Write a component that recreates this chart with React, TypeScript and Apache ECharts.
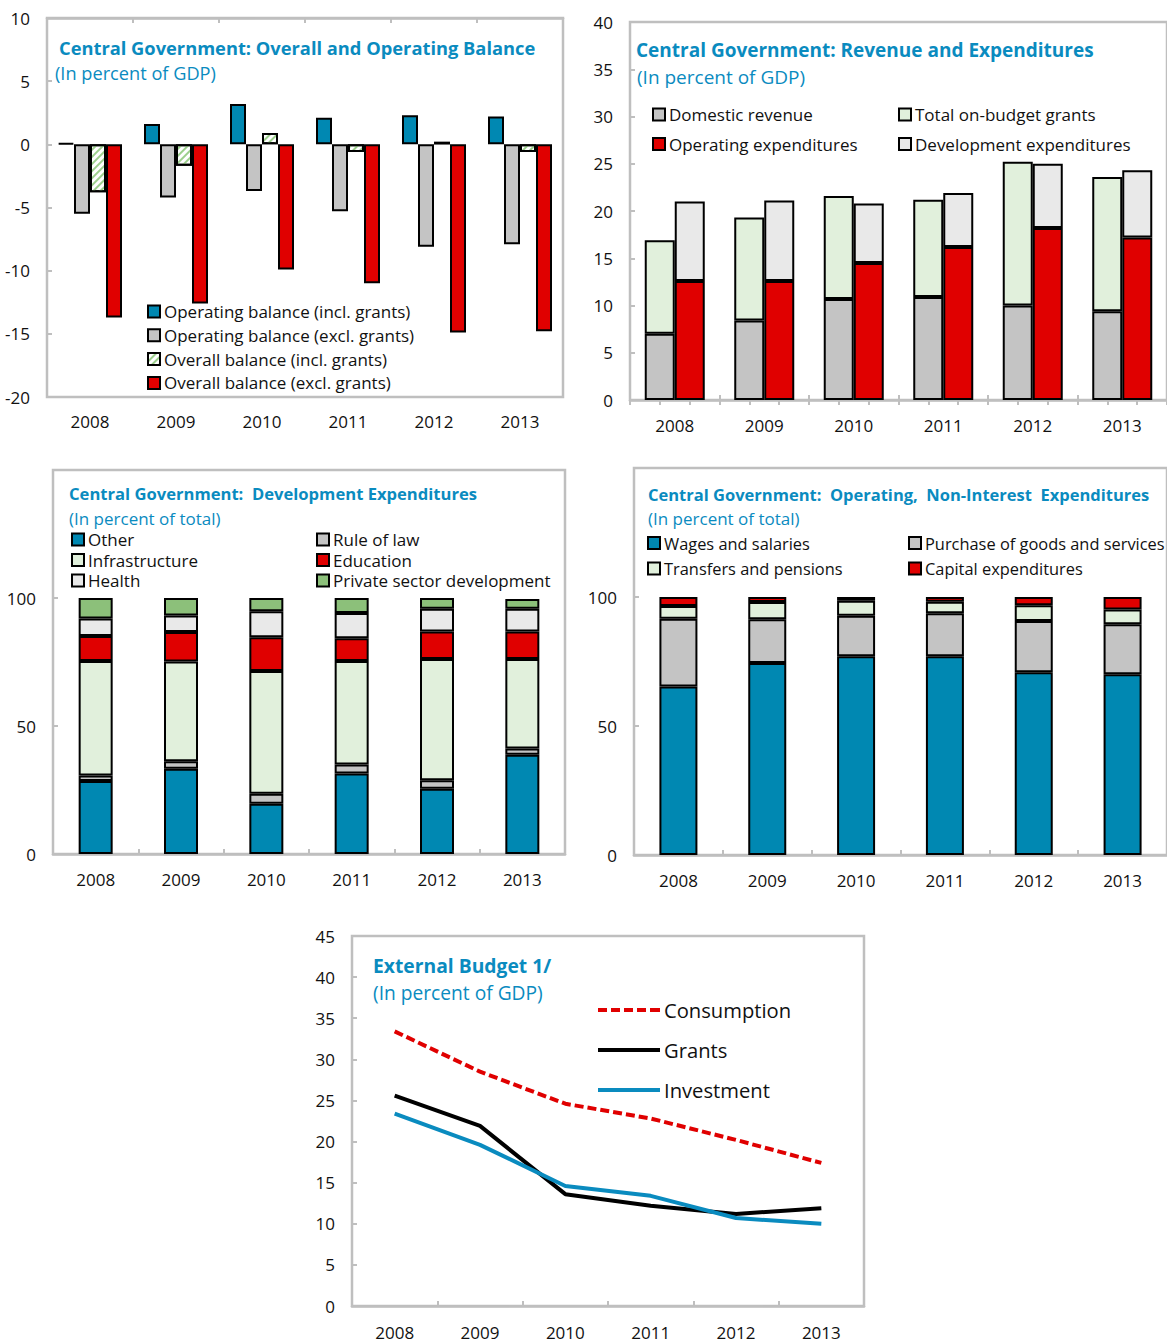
import React, { useEffect, useRef } from "react";
import * as echarts from "echarts";

// Years shown on every panel
const years = ["2008", "2009", "2010", "2011", "2012", "2013"];

// Overall and operating balance (percent of GDP)
const opBalanceIncl = [0.1, 1.6, 3.2, 2.1, 2.3, 2.2];
const opBalanceExcl = [-5.5, -4.2, -3.7, -5.3, -8.1, -7.9];
const overallIncl = [-3.8, -1.7, 0.9, -0.6, 0.2, -0.6];
const overallExcl = [-13.7, -12.6, -9.9, -11.0, -14.9, -14.8];

// Revenue and expenditures (percent of GDP)
const domesticRevenue = [7.0, 8.4, 10.7, 10.9, 10.0, 9.4];
const onBudgetGrants = [9.9, 10.9, 10.9, 10.3, 15.2, 14.2];
const operatingExp = [12.6, 12.6, 14.5, 16.2, 18.2, 17.2];
const developmentExp = [8.4, 8.5, 6.3, 5.7, 6.8, 7.1];

// Development expenditures (percent of total)
const devOther = [28.5, 33.3, 19.6, 31.4, 25.5, 38.8];
const devRuleOfLaw = [2.2, 2.9, 3.9, 3.6, 3.3, 2.4];
const devInfrastructure = [44.7, 39.0, 48.0, 40.4, 47.4, 35.0];
const devEducation = [9.8, 11.5, 13.2, 8.9, 10.7, 10.7];
const devHealth = [6.8, 6.5, 10.1, 9.8, 8.9, 8.9];
const devPrivateSector = [8.0, 6.8, 5.2, 5.9, 4.2, 3.8];

// Operating, non-interest expenditures (percent of total)
const wages = [65.3, 74.4, 77.0, 77.0, 70.8, 70.1];
const goodsServices = [26.3, 17.0, 15.7, 16.7, 19.9, 19.3];
const transfers = [4.9, 6.7, 5.8, 4.5, 6.1, 5.8];
const capitalExp = [3.5, 1.9, 1.5, 1.8, 3.2, 4.8];

// External budget (percent of GDP)
const extConsumption = [33.4, 28.5, 24.6, 22.8, 20.2, 17.4];
const extGrants = [25.6, 21.9, 13.6, 12.2, 11.2, 11.9];
const extInvestment = [23.4, 19.6, 14.6, 13.4, 10.7, 10.0];

const FONT = "'Open Sans', 'Noto Sans', sans-serif";
const BLUE = "#0088b2";
const RED = "#e00000";
const GRAY = "#c4c4c4";
const LIGHT_GREEN = "#e1f0dc";
const LIGHT_GRAY = "#e9e9e9";
const GREEN = "#8cc07a";
const TITLE = "#0a8bbf";
const FRAME = "#bfbfbf";
const LINE_BLUE = "#0a8bbf";
const CONSUMPTION_DASH = [9, 4];
// Dashed legend key for the consumption line (five short dashes)
const DASH_ICON =
  "path://M0,0h9v4h-9z M13,0h9v4h-9z M26,0h9v4h-9z M39,0h9v4h-9z M52,0h10v4h-10z";

const labelStyle = { color: "#111", fontFamily: FONT, fontSize: 17 };

const barBorder = { borderColor: "#000", borderWidth: 2 };

function frameGrid(left: number, top: number, width: number, height: number) {
  return {
    left,
    top,
    width,
    height,
    show: true,
    borderColor: FRAME,
    borderWidth: 2.5,
    backgroundColor: "#fff",
    containLabel: false,
  };
}

function catAxis(gridIndex: number, margin: number) {
  return {
    type: "category",
    gridIndex,
    data: years,
    position: "bottom",
    axisLine: { show: true, onZero: false, lineStyle: { color: FRAME, width: 2.5 } },
    axisTick: { show: true, inside: true, length: 5, lineStyle: { color: FRAME, width: 2 } },
    axisLabel: { ...labelStyle, margin },
    splitLine: { show: false },
  };
}

function valAxis(gridIndex: number, min: number, max: number, interval: number, hideTop = false) {
  return {
    type: "value",
    gridIndex,
    min,
    max,
    interval,
    axisLine: { show: false },
    axisTick: { show: true, inside: true, length: 5, lineStyle: { color: FRAME, width: 2 } },
    axisLabel: {
      ...labelStyle,
      margin: 17,
      formatter: (v: number) => (hideTop && v === max ? "" : String(v)),
    },
    splitLine: { show: false },
  };
}

function bar(
  name: string,
  data: number[],
  xAxisIndex: number,
  yAxisIndex: number,
  color: string,
  barWidth: number,
  stack?: string,
  extra: Record<string, unknown> = {}
) {
  return {
    type: "bar",
    name,
    data,
    xAxisIndex,
    yAxisIndex,
    stack,
    barWidth,
    barGap: "0%",
    itemStyle: { color, ...barBorder, ...extra },
  };
}

function text(x: number, y: number, t: string, size: number, bold: boolean, fill = TITLE) {
  return {
    type: "text",
    x,
    y,
    style: {
      text: t,
      fill,
      fontFamily: FONT,
      fontSize: size,
      fontWeight: bold ? "bold" : "normal",
      verticalAlign: "middle",
      align: "left",
    },
  };
}

function legend(
  left: number,
  top: number,
  data: unknown[],
  itemGap: number,
  fontSize = 17,
  extra: Record<string, unknown> = {}
) {
  return {
    orient: "vertical",
    left,
    top,
    data,
    icon: "rect",
    itemWidth: 12,
    itemHeight: 12,
    itemGap,
    padding: 0,
    selectedMode: false,
    textStyle: { color: "#111", fontFamily: FONT, fontSize, padding: [0, 0, 0, -1] },
    ...extra,
  };
}

export default function App() {
  const ref = useRef<HTMLDivElement>(null);

  useEffect(() => {
    if (!ref.current) return;
    const chart = echarts.init(ref.current, undefined, { renderer: "svg" });

    const stripes = {
      decal: {
        symbol: "rect",
        symbolSize: 1,
        color: "#9ccf8c",
        dashArrayX: [1, 0],
        dashArrayY: [2, 3],
        rotation: -Math.PI / 4,
      },
    };

    const option = {
      animation: false,
      backgroundColor: "#fff",
      grid: [
        frameGrid(47, 18, 516, 379),
        frameGrid(630, 22, 540, 378),
        frameGrid(53, 470, 512, 384),
        frameGrid(634, 468, 551, 387),
        frameGrid(352, 936, 512, 370),
      ],
      xAxis: [
        // 0: balance panel, labels along the bottom frame
        { ...catAxis(0, 16), axisLine: { show: false }, axisTick: { show: false } },
        // 1: balance panel, zero line with ticks
        {
          type: "category",
          gridIndex: 0,
          data: years,
          axisLine: { show: true, onZero: true, lineStyle: { color: FRAME, width: 2.5 } },
          axisTick: { show: true, inside: true, length: 5, lineStyle: { color: FRAME, width: 2 } },
          axisLabel: { show: false },
        },
        // 2: revenue panel
        catAxis(1, 17),
        // 3: revenue panel, top frame ticks
        {
          type: "category",
          gridIndex: 1,
          position: "top",
          data: Array.from({ length: 18 }, (_, i) => "t" + i),
          axisLine: { show: false },
          axisTick: { show: true, inside: true, length: 5, lineStyle: { color: FRAME, width: 2 } },
          axisLabel: { show: false },
        },
        // 4: development panel
        catAxis(2, 17),
        // 5: operating panel
        catAxis(3, 17),
        // 6: external budget panel
        catAxis(4, 18),
      ],
      yAxis: [
        valAxis(0, -20, 10, 5),
        valAxis(1, 0, 40, 5),
        valAxis(2, 0, 150, 50, true),
        valAxis(3, 0, 150, 50, true),
        valAxis(4, 0, 45, 5),
      ],
      legend: [
        legend(147, 303, [
          "Operating balance (incl. grants)",
          "Operating balance (excl. grants)",
          "Overall balance (incl. grants)",
          "Overall balance (excl. grants)",
        ], 6.8),
        legend(652, 106, ["Domestic revenue", "Operating expenditures"], 12.5),
        legend(898, 106, ["Total on-budget grants", "Development expenditures"], 12.5),
        legend(71, 531, ["Other", "Infrastructure", "Health"], 3.5),
        legend(316, 531, ["Rule of law", "Education", "Private sector development"], 3.5),
        legend(647, 535, ["Wages and salaries", "Transfers and pensions"], 9.5, 16.4),
        legend(908, 535, ["Purchase of goods and services", "Capital expenditures"], 9.5, 16.4),
        legend(
          598,
          1000,
          [
            { name: "Consumption", icon: DASH_ICON },
            { name: "Grants" },
            { name: "Investment" },
          ],
          20,
          20.2,
          { itemWidth: 62, itemHeight: 4 }
        ),
      ],
      graphic: [
        text(59, 47, "Central Government: Overall and Operating Balance", 18.3, true),
        text(55, 73, "(In percent of GDP)", 18.2, false),
        text(636, 50, "Central Government: Revenue and Expenditures", 19, true),
        text(637, 77, "(In percent of GDP)", 19, false),
        text(69, 493, "Central Government:  Development Expenditures", 16.6, true),
        text(69, 518, "(In percent of total)", 17, false),
        text(648, 494, "Central Government:  Operating,  Non-Interest  Expenditures", 16.5, true),
        text(648, 518, "(In percent of total)", 17, false),
        text(373, 965, "External Budget 1/", 19.3, true),
        text(373, 992, "(In percent of GDP)", 19.2, false),
      ],
      series: [
        // Overall and operating balance
        bar("Operating balance (incl. grants)", opBalanceIncl, 0, 0, BLUE, 16),
        bar("Operating balance (excl. grants)", opBalanceExcl, 0, 0, GRAY, 16),
        bar("Overall balance (incl. grants)", overallIncl, 0, 0, "#ffffff", 16, undefined, stripes),
        bar("Overall balance (excl. grants)", overallExcl, 0, 0, RED, 16),
        // Revenue and expenditures
        bar("Domestic revenue", domesticRevenue, 2, 1, GRAY, 30, "revenue"),
        bar("Total on-budget grants", onBudgetGrants, 2, 1, LIGHT_GREEN, 30, "revenue"),
        bar("Operating expenditures", operatingExp, 2, 1, RED, 30, "spending"),
        bar("Development expenditures", developmentExp, 2, 1, LIGHT_GRAY, 30, "spending"),
        // Development expenditures
        bar("Other", devOther, 4, 2, BLUE, 34, "dev"),
        bar("Rule of law", devRuleOfLaw, 4, 2, GRAY, 34, "dev"),
        bar("Infrastructure", devInfrastructure, 4, 2, LIGHT_GREEN, 34, "dev"),
        bar("Education", devEducation, 4, 2, RED, 34, "dev"),
        bar("Health", devHealth, 4, 2, LIGHT_GRAY, 34, "dev"),
        bar("Private sector development", devPrivateSector, 4, 2, GREEN, 34, "dev"),
        // Operating, non-interest expenditures
        bar("Wages and salaries", wages, 5, 3, BLUE, 38, "op"),
        bar("Purchase of goods and services", goodsServices, 5, 3, GRAY, 38, "op"),
        bar("Transfers and pensions", transfers, 5, 3, LIGHT_GREEN, 38, "op"),
        bar("Capital expenditures", capitalExp, 5, 3, RED, 38, "op"),
        // External budget
        {
          type: "line",
          name: "Consumption",
          data: extConsumption,
          xAxisIndex: 6,
          yAxisIndex: 4,
          symbol: "none",
          lineStyle: { color: RED, width: 4, type: CONSUMPTION_DASH },
          itemStyle: { color: RED },
        },
        {
          type: "line",
          name: "Grants",
          data: extGrants,
          xAxisIndex: 6,
          yAxisIndex: 4,
          symbol: "none",
          lineStyle: { color: "#000", width: 4 },
          itemStyle: { color: "#000" },
        },
        {
          type: "line",
          name: "Investment",
          data: extInvestment,
          xAxisIndex: 6,
          yAxisIndex: 4,
          symbol: "none",
          lineStyle: { color: LINE_BLUE, width: 4 },
          itemStyle: { color: LINE_BLUE },
        },
      ],
    };

    chart.setOption(option as any);
    return () => chart.dispose();
  }, []);

  return (
    <div
      ref={ref}
      style={{ position: "absolute", left: 0, top: 0, width: 1167, height: 1343, background: "#fff" }}
    />
  );
}
